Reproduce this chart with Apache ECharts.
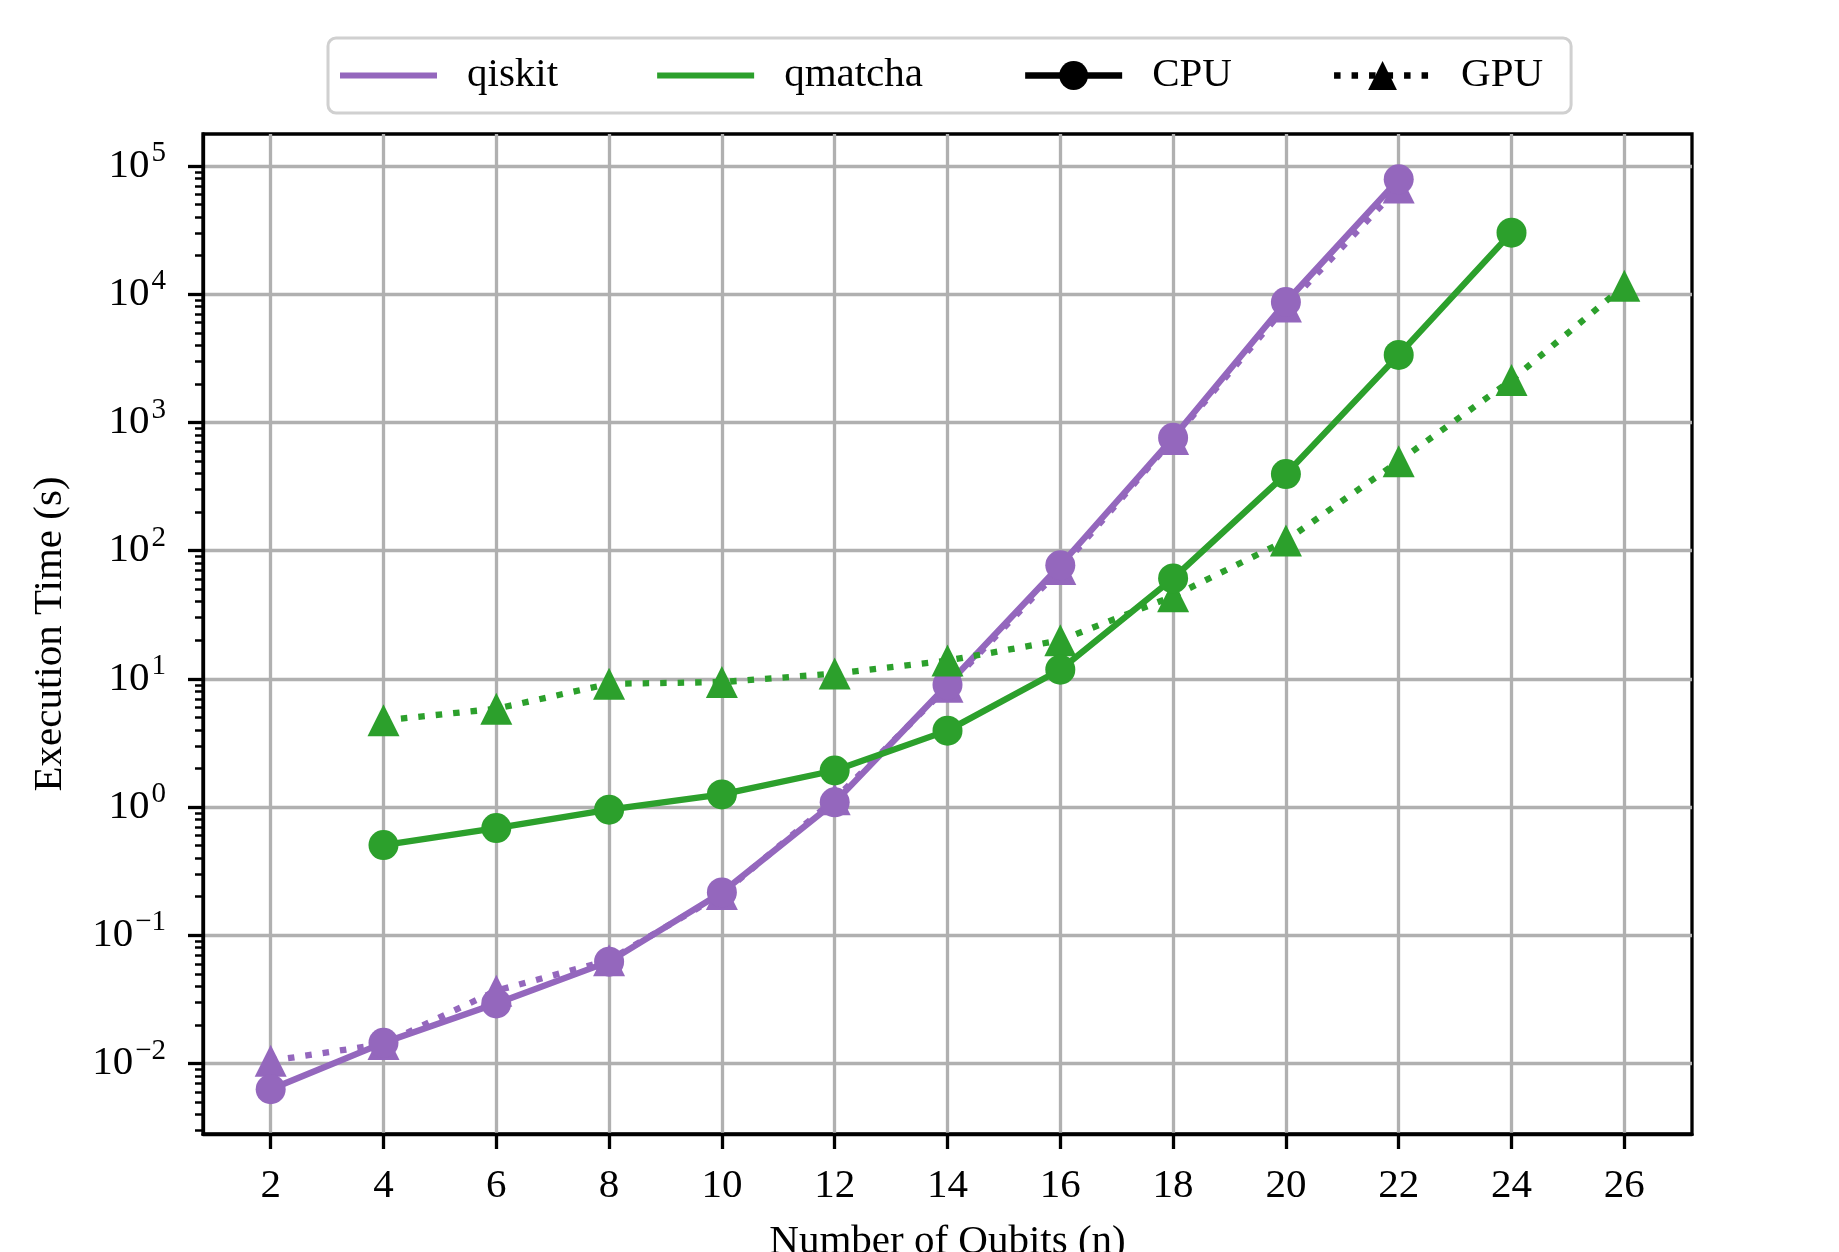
<!DOCTYPE html>
<html>
<head>
<meta charset="utf-8">
<script src="https://cdn.jsdelivr.net/npm/echarts@6/dist/echarts.min.js"></script>
<style>
html,body{margin:0;padding:0;background:#fff;}
#chart{width:1839px;height:1252px;}
</style>
</head>
<body>
<div id="chart"></div>
<script>
// ---- data ----
const qubitsQiskit = [2, 4, 6, 8, 10, 12, 14, 16, 18, 20, 22];
const qiskitCPU = [0.0063, 0.0145, 0.0294, 0.0623, 0.216, 1.09, 9.0, 77, 759, 8710, 78800];
const qiskitGPU = [0.0105, 0.0142, 0.037, 0.064, 0.21, 1.15, 8.7, 72, 745, 8020, 68200];
const qubitsQmatchaCPU = [4, 6, 8, 10, 12, 14, 16, 18, 20, 22, 24];
const qmatchaCPU = [0.506, 0.686, 0.955, 1.256, 1.93, 3.95, 11.8, 60.8, 396, 3365, 30270];
const qubitsQmatchaGPU = [4, 6, 8, 10, 12, 14, 16, 18, 20, 22, 24, 26];
const qmatchaGPU = [4.75, 5.85, 9.16, 9.44, 11.0, 13.9, 20, 44.2, 120, 499, 2143, 11650];

// ---- ticks ----
const xTicks = [2, 4, 6, 8, 10, 12, 14, 16, 18, 20, 22, 24, 26];
const yTicks = [1e-2, 1e-1, 1e0, 1e1, 1e2, 1e3, 1e4, 1e5];
const yMinorMultipliers = [2, 3, 4, 5, 6, 7, 8, 9];
const yMinorDecades = [1e-3, 1e-2, 1e-1, 1e0, 1e1, 1e2, 1e3, 1e4, 1e5];

const Y_MIN = 0.00282, Y_MAX = 178000;
const X_MIN = 0.8, X_MAX = 27.2;

const yMinorTicks = [];
yMinorDecades.forEach(d => yMinorMultipliers.forEach(m => {
  const v = +(m * d).toPrecision(6);
  if (v > Y_MIN && v < Y_MAX) yMinorTicks.push(v);
}));

const PURPLE = '#9467bd', GREEN = '#2ca02c';
const FONT = 'Liberation Serif';
const DOT = [6.5, 11];
const LW = 6.3;

function pairs(xs, ys) { return xs.map((x, i) => [x, ys[i]]); }

function yFmt(v) {
  const e = Math.round(Math.log10(v));
  const s = e < 0 ? '\u2212' + Math.abs(e) : String(e);
  return '{b|10}{s|' + s + '}';
}

const chart = echarts.init(document.getElementById('chart'), null, {renderer: 'canvas'});

const base = {
  type: 'line',
  animation: false,
  xAxisIndex: 0,
  yAxisIndex: 0
};

chart.setOption({
  animation: false,
  backgroundColor: '#fff',
  grid: {
    left: 203, right: 147, top: 134, bottom: 118,
    outerBoundsMode: 'none',
    containLabel: false,
    show: true, borderColor: '#000', borderWidth: 3.3, backgroundColor: 'transparent'
  },
  legend: {
    left: 328, top: 38,
    selectedMode: false,
    data: [
      {name: 'qiskit', icon: 'path://M0,0H100V6H0Z'},
      {name: 'qmatcha', icon: 'path://M0,0H100V6H0Z'},
      {name: 'CPU', lineStyle: {width: LW, color: '#000'}},
      {name: 'GPU', lineStyle: {width: LW, color: '#000', type: DOT, cap: 'butt'}}
    ],
    itemWidth: 97, itemHeight: 36, itemGap: 99,
    textStyle: {fontFamily: FONT, fontSize: 41, color: '#000', padding: [0, 0, 0, 25]},
    backgroundColor: '#fff',
    borderColor: '#d0d0d0', borderWidth: 3, borderRadius: 8,
    padding: [17, 28, 17, 12]
  },
  xAxis: [{
    type: 'value', min: X_MIN, max: X_MAX,
    name: 'Number of Qubits (n)', nameLocation: 'middle', nameGap: 88,
    nameTextStyle: {fontFamily: FONT, fontSize: 41, color: '#000', lineHeight: 41},
    axisLine: {show: true, lineStyle: {color: '#000', width: 3.3}},
    axisTick: {show: true, inside: false, length: 15, lineStyle: {color: '#000', width: 3.3}, customValues: xTicks},
    axisLabel: {customValues: xTicks, margin: 32, fontFamily: FONT, fontSize: 41, color: '#000', lineHeight: 41},
    splitLine: {show: true, lineStyle: {color: '#b0b0b0', width: 3.3}},
    minorTick: {show: false}
  }],
  yAxis: [{
    type: 'log', logBase: 10, min: Y_MIN, max: Y_MAX,
    name: 'Execution Time (s)', nameLocation: 'middle', nameGap: 132,
    nameTextStyle: {fontFamily: FONT, fontSize: 41, color: '#000', lineHeight: 41},
    axisLine: {show: true, lineStyle: {color: '#000', width: 3.3}},
    axisTick: {show: true, inside: false, length: 15, lineStyle: {color: '#000', width: 3.3}, customValues: yTicks},
    axisLabel: {
      customValues: yTicks, margin: 37, formatter: yFmt,
      rich: {
        b: {fontFamily: FONT, fontSize: 41, color: '#000', lineHeight: 41, verticalAlign: 'bottom'},
        s: {fontFamily: FONT, fontSize: 29, color: '#000', lineHeight: 29, verticalAlign: 'bottom', padding: [3.5, 0, 18.5, 2]}
      }
    },
    splitLine: {show: true, lineStyle: {color: '#b0b0b0', width: 3.3}},
    minorTick: {show: false}
  }, {
    type: 'log', logBase: 10, min: Y_MIN, max: Y_MAX, position: 'left', offset: 0,
    axisLine: {show: false},
    axisTick: {show: true, inside: false, length: 8, lineStyle: {color: '#000', width: 2.5}, customValues: yMinorTicks},
    axisLabel: {show: false},
    splitLine: {show: false},
    minorTick: {show: false}
  }],
  series: [
    // legend-only entries
    {name: 'qiskit', type: 'line', data: [], color: PURPLE, lineStyle: {width: LW}},
    {name: 'qmatcha', type: 'line', data: [], color: GREEN, lineStyle: {width: LW}},
    {name: 'CPU', type: 'line', data: [], symbol: 'circle', color: '#000', lineStyle: {width: LW, color: '#000'}, itemStyle: {color: '#000'}},
    {name: 'GPU', type: 'line', data: [], symbol: 'triangle', color: '#000', lineStyle: {width: LW, color: '#000', type: DOT, cap: 'butt'}, itemStyle: {color: '#000'}},
    // data series
    Object.assign({}, base, {
      name: 'qiskit GPU', data: pairs(qubitsQiskit, qiskitGPU),
      symbol: 'triangle', symbolSize: 32, color: PURPLE,
      lineStyle: {width: LW, color: PURPLE, type: DOT, cap: 'butt'}, itemStyle: {color: PURPLE}
    }),
    Object.assign({}, base, {
      name: 'qiskit CPU', data: pairs(qubitsQiskit, qiskitCPU),
      symbol: 'circle', symbolSize: 30, color: PURPLE,
      lineStyle: {width: LW, color: PURPLE}, itemStyle: {color: PURPLE}
    }),
    Object.assign({}, base, {
      name: 'qmatcha GPU', data: pairs(qubitsQmatchaGPU, qmatchaGPU),
      symbol: 'triangle', symbolSize: 32, color: GREEN,
      lineStyle: {width: LW, color: GREEN, type: DOT, cap: 'butt'}, itemStyle: {color: GREEN}
    }),
    Object.assign({}, base, {
      name: 'qmatcha CPU', data: pairs(qubitsQmatchaCPU, qmatchaCPU),
      symbol: 'circle', symbolSize: 30, color: GREEN,
      lineStyle: {width: LW, color: GREEN}, itemStyle: {color: GREEN}
    })
  ]
});
</script>
</body>
</html>
